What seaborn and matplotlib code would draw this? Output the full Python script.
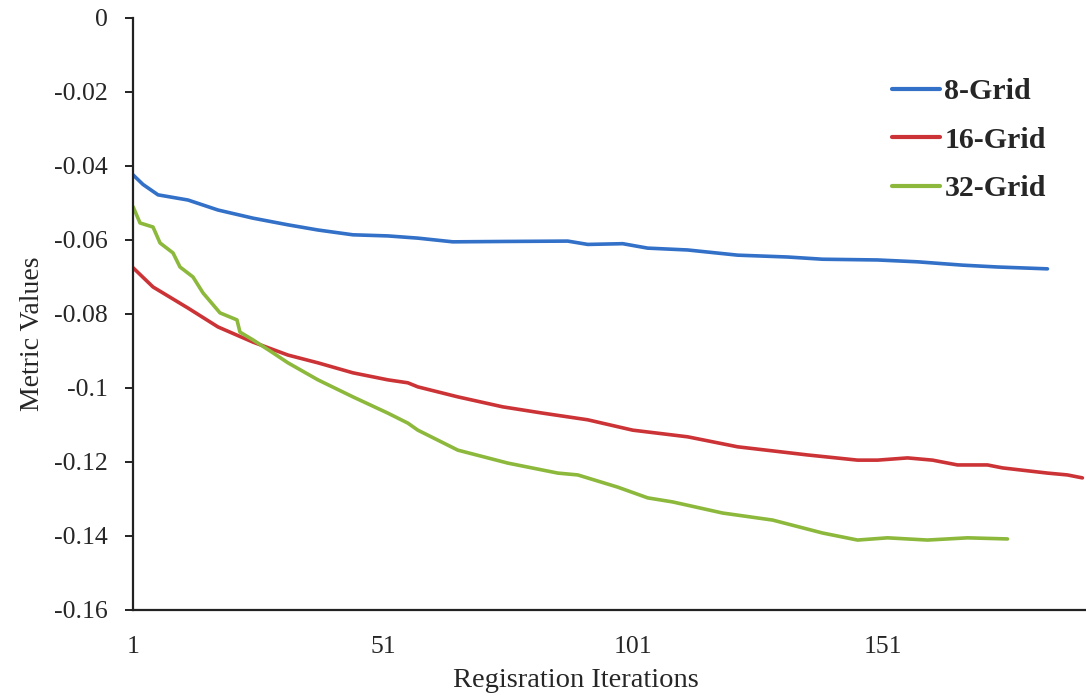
import matplotlib
matplotlib.use("Agg")
import matplotlib.pyplot as plt
import seaborn as sns
import numpy as np
import pandas as pd

# values
grid8_iter = [1, 3, 6, 12, 18, 25, 32, 38, 45, 52, 58, 65, 75, 88, 92, 99, 104,
              112, 122, 132, 139, 150, 158, 167, 174, 180, 184]
grid8_vals = [-0.0424, -0.0450, -0.0478, -0.0492, -0.0519, -0.0541, -0.0559, -0.0573,
              -0.0586, -0.0589, -0.0595, -0.0605, -0.0604, -0.0603, -0.0612, -0.0610,
              -0.0622, -0.0627, -0.0641, -0.0646, -0.0652, -0.0654, -0.0659, -0.0668,
              -0.0673, -0.0676, -0.0678]

grid16_iter = [1, 5, 12, 18, 25, 32, 38, 45, 52, 56, 58, 66, 75, 83, 92, 101, 112,
               122, 136, 146, 150, 156, 161, 166, 172, 175, 184, 188, 191]
grid16_vals = [-0.0675, -0.0727, -0.0784, -0.0835, -0.0876, -0.0911, -0.0932, -0.0959,
               -0.0978, -0.0986, -0.0997, -0.1024, -0.1051, -0.1068, -0.1086, -0.1114,
               -0.1132, -0.1159, -0.1181, -0.1195, -0.1195, -0.1189, -0.1195, -0.1208,
               -0.1208, -0.1216, -0.1230, -0.1235, -0.1243]

grid32_iter = [1, 2.4, 5, 6.4, 9, 10.4, 13, 15, 18.4, 21.8, 22.4, 25, 29, 32, 38, 45,
               52, 56, 58, 66, 76, 86, 90, 98, 104, 109, 119, 129, 139, 146, 152, 160,
               168, 176]
grid32_vals = [-0.0510, -0.0554, -0.0565, -0.0608, -0.0635, -0.0673, -0.0700, -0.0743,
               -0.0797, -0.0816, -0.0849, -0.0870, -0.0905, -0.0932, -0.0978, -0.1024,
               -0.1068, -0.1095, -0.1114, -0.1168, -0.1203, -0.1230, -0.1235, -0.1268,
               -0.1297, -0.1308, -0.1338, -0.1357, -0.1392, -0.1411, -0.1405, -0.1411,
               -0.1405, -0.1408]

series_names = ["8-Grid", "16-Grid", "32-Grid"]
series_colors = ["#3370C8", "#CC3336", "#8CB83C"]
x_ticks = [1, 51, 101, 151]
y_ticks = [0, -0.02, -0.04, -0.06, -0.08, -0.1, -0.12, -0.14, -0.16]
y_tick_labels = ["0", "-0.02", "-0.04", "-0.06", "-0.08", "-0.1", "-0.12", "-0.14", "-0.16"]

df = pd.concat([
    pd.DataFrame({"iter": grid8_iter, "value": grid8_vals, "series": series_names[0]}),
    pd.DataFrame({"iter": grid16_iter, "value": grid16_vals, "series": series_names[1]}),
    pd.DataFrame({"iter": grid32_iter, "value": grid32_vals, "series": series_names[2]}),
])

sns.set_theme(style="white")
plt.rcParams["font.family"] = ["Liberation Serif", "DejaVu Serif"]

fig = plt.figure(figsize=(10.86, 7.0), dpi=100)
ax = fig.add_axes([0.1225, 0.1286, 0.8765, 0.8457])

sns.lineplot(data=df, x="iter", y="value", hue="series", palette=series_colors,
             hue_order=series_names, linewidth=2.6, sort=False, estimator=None, ax=ax)

ax.set_xlim(1, 191.5)
ax.set_ylim(-0.16, 0)
ax.set_xticks(x_ticks)
ax.set_xticklabels([str(t) for t in x_ticks])
ax.set_yticks(y_ticks)
ax.set_yticklabels(y_tick_labels)

for side in ["top", "right"]:
    ax.spines[side].set_visible(False)
for side in ["left", "bottom"]:
    ax.spines[side].set_color("#222222")
    ax.spines[side].set_linewidth(1.6)

ax.tick_params(axis="y", which="major", direction="out", length=6, width=1.4,
               color="#222222", left=True, labelsize=18.5, pad=12)
ax.tick_params(axis="x", which="major", length=0, labelsize=18.5, pad=19)

ax.set_xlabel("Regisration Iterations", fontsize=20.5)
ax.set_ylabel("Metric Values", fontsize=20)
ax.xaxis.set_label_coords(0.465, -0.119)
ax.xaxis.label.set_va("center")
ax.yaxis.set_label_coords(-0.106, 0.466)
ax.yaxis.label.set_va("center")

leg = ax.legend(loc="upper left", bbox_to_anchor=(892 / 1086, 1 - 78 / 700),
                bbox_transform=fig.transFigure, frameon=False, borderpad=0,
                borderaxespad=0, handlelength=1.6, handletextpad=0.15,
                labelspacing=0.72, prop={"family": "Liberation Serif",
                                         "weight": "bold", "size": 21.5})
for line in leg.get_lines():
    line.set_linewidth(3)

fig.savefig("out.png", dpi=100)
plt.close(fig)
